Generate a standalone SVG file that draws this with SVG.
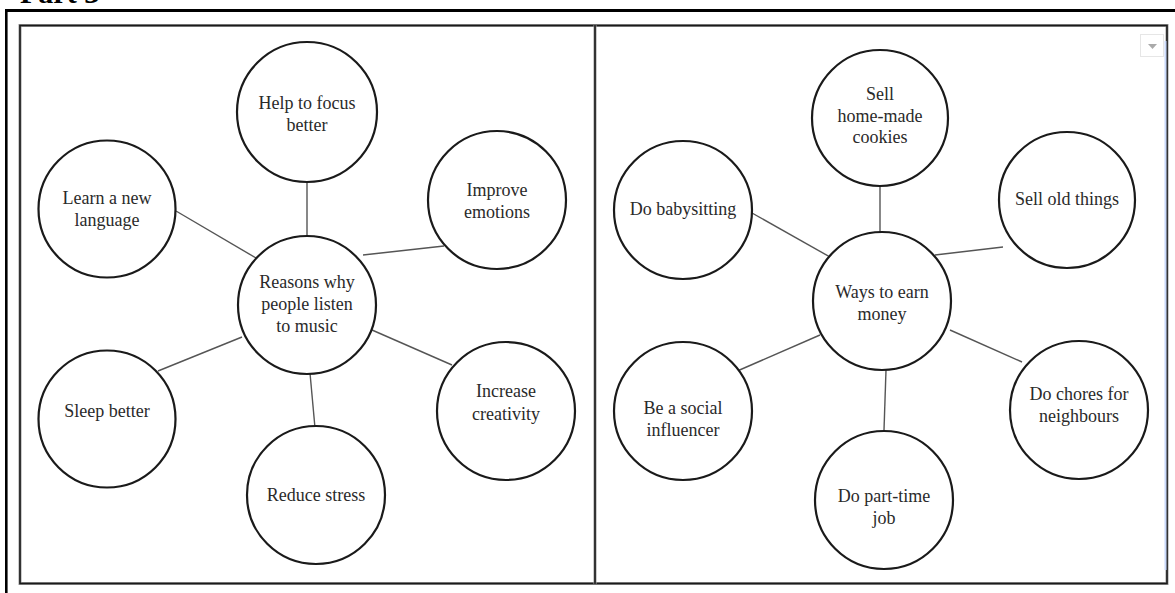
<svg xmlns="http://www.w3.org/2000/svg" width="1175" height="593" viewBox="0 0 1175 593">
<style>
.node circle{fill:#fff;stroke:#1a1a1a;stroke-width:2.2}
.node text{font-family:"Liberation Serif","Times New Roman",serif;font-size:18px;fill:#2a2a2a;text-anchor:middle}
.conn line{stroke:#555;stroke-width:1.4}
.frame{fill:none;stroke:#000}
</style>
<rect width="1175" height="593" fill="#fff"/>
<text x="20" y="2.5" font-family="'Liberation Serif',serif" font-weight="bold" font-size="30" fill="#000">Part 3</text>
<line class="frame" x1="5" y1="10.5" x2="1175" y2="10.5" stroke-width="3"/>
<line class="frame" x1="6.3" y1="9" x2="6.3" y2="593" stroke-width="2.6"/>
<rect x="20" y="25.5" width="1147" height="558" fill="none" stroke="#999" stroke-width="3"/>
<rect x="20" y="25.5" width="1147" height="558" fill="none" stroke="#1a1a1a" stroke-width="1.6"/>
<line x1="595" y1="25" x2="595" y2="584" stroke="#999" stroke-width="3"/>
<line x1="595" y1="25" x2="595" y2="584" stroke="#1a1a1a" stroke-width="1.6"/>
<line x1="1165.5" y1="41" x2="1165.5" y2="570" stroke="#c9d9fb" stroke-width="2"/>
<rect x="1140.5" y="34.5" width="23" height="22" fill="#fff" stroke="#e6e6e6" stroke-width="1"/>
<polygon points="1148,44 1157,44 1152.5,49" fill="#aaa"/>
<g id="connectors" class="conn">
<line x1="307" y1="182" x2="307" y2="237"/>
<line x1="176" y1="211" x2="256" y2="258"/>
<line x1="444" y1="246" x2="363" y2="255"/>
<line x1="158" y1="371" x2="242" y2="337"/>
<line x1="310" y1="373" x2="315" y2="428"/>
<line x1="372" y1="330" x2="452" y2="365"/>
<line x1="880" y1="186" x2="880" y2="232"/>
<line x1="752" y1="213" x2="830" y2="257"/>
<line x1="935" y1="255" x2="1003" y2="247"/>
<line x1="735" y1="372" x2="820" y2="335"/>
<line x1="886" y1="370" x2="884" y2="430"/>
<line x1="950" y1="330" x2="1022" y2="362"/>
</g>
<g id="n-center-left" class="node"><circle cx="307" cy="305" r="69"/><text x="307" y="288">Reasons why</text><text x="307" y="310">people listen</text><text x="307" y="332">to music</text></g>
<g id="n-focus" class="node"><circle cx="307" cy="112" r="70"/><text x="307" y="109">Help to focus</text><text x="307" y="131">better</text></g>
<g id="n-language" class="node"><circle cx="107" cy="209" r="68.5"/><text x="107" y="204">Learn a new</text><text x="107" y="226">language</text></g>
<g id="n-emotions" class="node"><circle cx="497" cy="200" r="69"/><text x="497" y="196">Improve</text><text x="497" y="218">emotions</text></g>
<g id="n-sleep" class="node"><circle cx="107" cy="419" r="68.5"/><text x="107" y="417">Sleep better</text></g>
<g id="n-stress" class="node"><circle cx="316" cy="495" r="69"/><text x="316" y="501">Reduce stress</text></g>
<g id="n-creativity" class="node"><circle cx="506" cy="411" r="69"/><text x="506" y="397">Increase</text><text x="506" y="420">creativity</text></g>
<g id="n-center-right" class="node"><circle cx="882" cy="301" r="69"/><text x="882" y="298">Ways to earn</text><text x="882" y="320">money</text></g>
<g id="n-cookies" class="node"><circle cx="880" cy="118" r="68"/><text x="880" y="100">Sell</text><text x="880" y="122">home-made</text><text x="880" y="143">cookies</text></g>
<g id="n-oldthings" class="node"><circle cx="1067" cy="200" r="68"/><text x="1067" y="205">Sell old things</text></g>
<g id="n-babysitting" class="node"><circle cx="683" cy="210" r="69"/><text x="683" y="215">Do babysitting</text></g>
<g id="n-influencer" class="node"><circle cx="683" cy="411" r="69"/><text x="683" y="414">Be a social</text><text x="683" y="436">influencer</text></g>
<g id="n-parttime" class="node"><circle cx="884" cy="500" r="69"/><text x="884" y="502">Do part-time</text><text x="884" y="524">job</text></g>
<g id="n-chores" class="node"><circle cx="1079" cy="410" r="69"/><text x="1079" y="400">Do chores for</text><text x="1079" y="422">neighbours</text></g>
</svg>
